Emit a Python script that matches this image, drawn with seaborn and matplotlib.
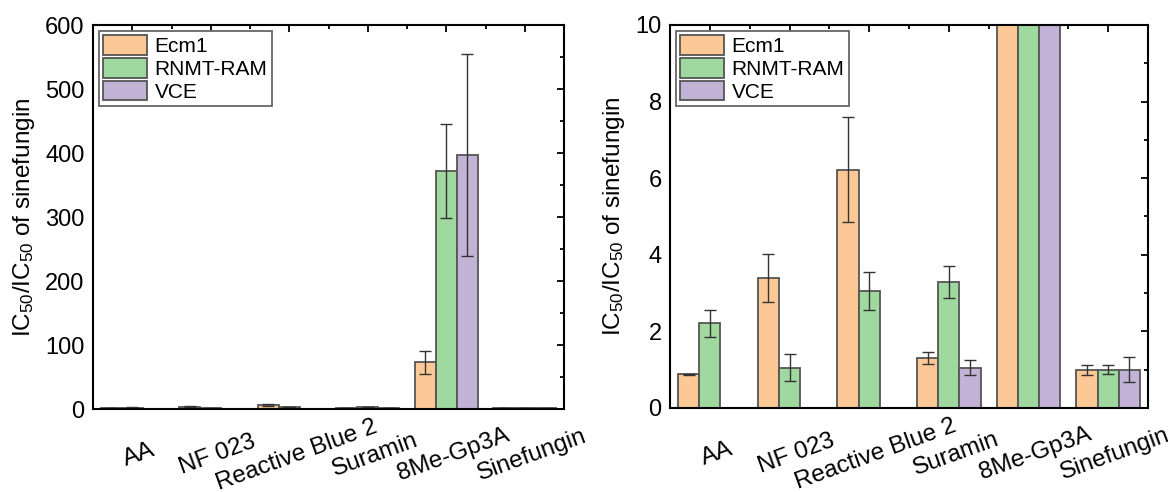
import numpy as np
import pandas as pd
import matplotlib
matplotlib.use('Agg')
import matplotlib.pyplot as plt
import matplotlib.transforms as mtransforms
from matplotlib.ticker import FixedLocator, MultipleLocator
import seaborn as sns

# Data
categories = ['AA', 'NF 023', 'Reactive Blue 2', 'Suramin', '8Me-Gp3A', 'Sinefungin']
enzymes = ['Ecm1', 'RNMT-RAM', 'VCE']

ecm1 = [0.88, 3.40, 6.22, 1.31, 73, 1.00]
ecm1_err = [0.02, 0.62, 1.37, 0.15, 18, 0.13]
rnmt = [2.21, 1.05, 3.06, 3.28, 372, 1.00]
rnmt_err = [0.36, 0.35, 0.50, 0.42, 73, 0.12]
vce = [np.nan, np.nan, np.nan, 1.05, 397, 1.00]
vce_err = [np.nan, np.nan, np.nan, 0.20, 158, 0.32]

colors = ['#FCC996', '#A0D9A0', '#C1B2D6']

# long table for seaborn
df = pd.DataFrame({
    'compound': categories * 3,
    'enzyme': [e for e in enzymes for _ in categories],
    'ratio': ecm1 + rnmt + vce,
})
df = df.dropna()
values = [ecm1, rnmt, vce]
errors = [ecm1_err, rnmt_err, vce_err]

sns.set_style('white')
plt.rcParams['font.family'] = ['Liberation Sans', 'DejaVu Sans']
plt.rcParams['mathtext.default'] = 'regular'
for k in ['text.color', 'axes.labelcolor', 'xtick.color', 'ytick.color']:
    plt.rcParams[k] = 'black'

fig = plt.figure(figsize=(11.76, 4.92), dpi=100)
ax1 = fig.add_axes([93 / 1176, 83 / 492, 471 / 1176, 384 / 492])
ax2 = fig.add_axes([670 / 1176, 84 / 492, 478 / 1176, 383 / 492])

for ax, ymax, ystep in [(ax1, 600, 100), (ax2, 10, 2)]:
    sns.barplot(data=df, x='compound', y='ratio', hue='enzyme', order=categories,
                hue_order=enzymes, palette=colors, errorbar=None, width=0.8,
                edgecolor='#555555', linewidth=1.3, saturation=1, ax=ax)

    # error bars at the dodged bar centres
    x = np.arange(len(categories))
    for j in range(3):
        ax.errorbar(x + (j - 1) * 0.8 / 3, values[j], yerr=errors[j], fmt='none',
                    ecolor='#333333', elinewidth=1, capsize=4, capthick=1)

    ax.set_xlim(-0.5, 5.5)
    ax.set_ylim(0, ymax)
    ax.yaxis.set_major_locator(MultipleLocator(ystep))
    ax.yaxis.set_minor_locator(MultipleLocator(ystep / 2))
    ax.xaxis.set_minor_locator(FixedLocator(np.arange(0.5, 5, 1)))
    ax.tick_params(which='both', direction='in', top=True, right=True, width=1.3)
    ax.tick_params(which='major', length=5)
    ax.tick_params(which='minor', length=3)
    ax.tick_params(axis='x', pad=33, labelsize=17.5)
    ax.tick_params(axis='y', pad=6, labelsize=17)
    for s in ax.spines.values():
        s.set_linewidth(1.5)
        s.set_color('black')

    ax.set_xlabel('')
    ax.set_ylabel('IC$_{50}$/IC$_{50}$ of sinefungin', fontsize=17.5, labelpad=6)
    ax.set_xticks(range(len(categories)))
    ax.set_xticklabels(categories, rotation=20, ha='center', va='center',
                       rotation_mode='anchor')
    offset = mtransforms.ScaledTranslation(7 / 100, 0, fig.dpi_scale_trans)
    for lab in ax.get_xticklabels():
        lab.set_transform(lab.get_transform() + offset)

    handles, labels = ax.get_legend_handles_labels()
    leg = ax.legend(handles, labels, loc='upper left', fontsize=15, fancybox=False,
                    edgecolor='#666666', handlelength=2.1, handleheight=1.05,
                    labelspacing=0.1, handletextpad=0.35, borderpad=0.2,
                    borderaxespad=0.3, framealpha=1)
    leg.get_frame().set_linewidth(1.3)

fig.savefig('out.png', dpi=100)
